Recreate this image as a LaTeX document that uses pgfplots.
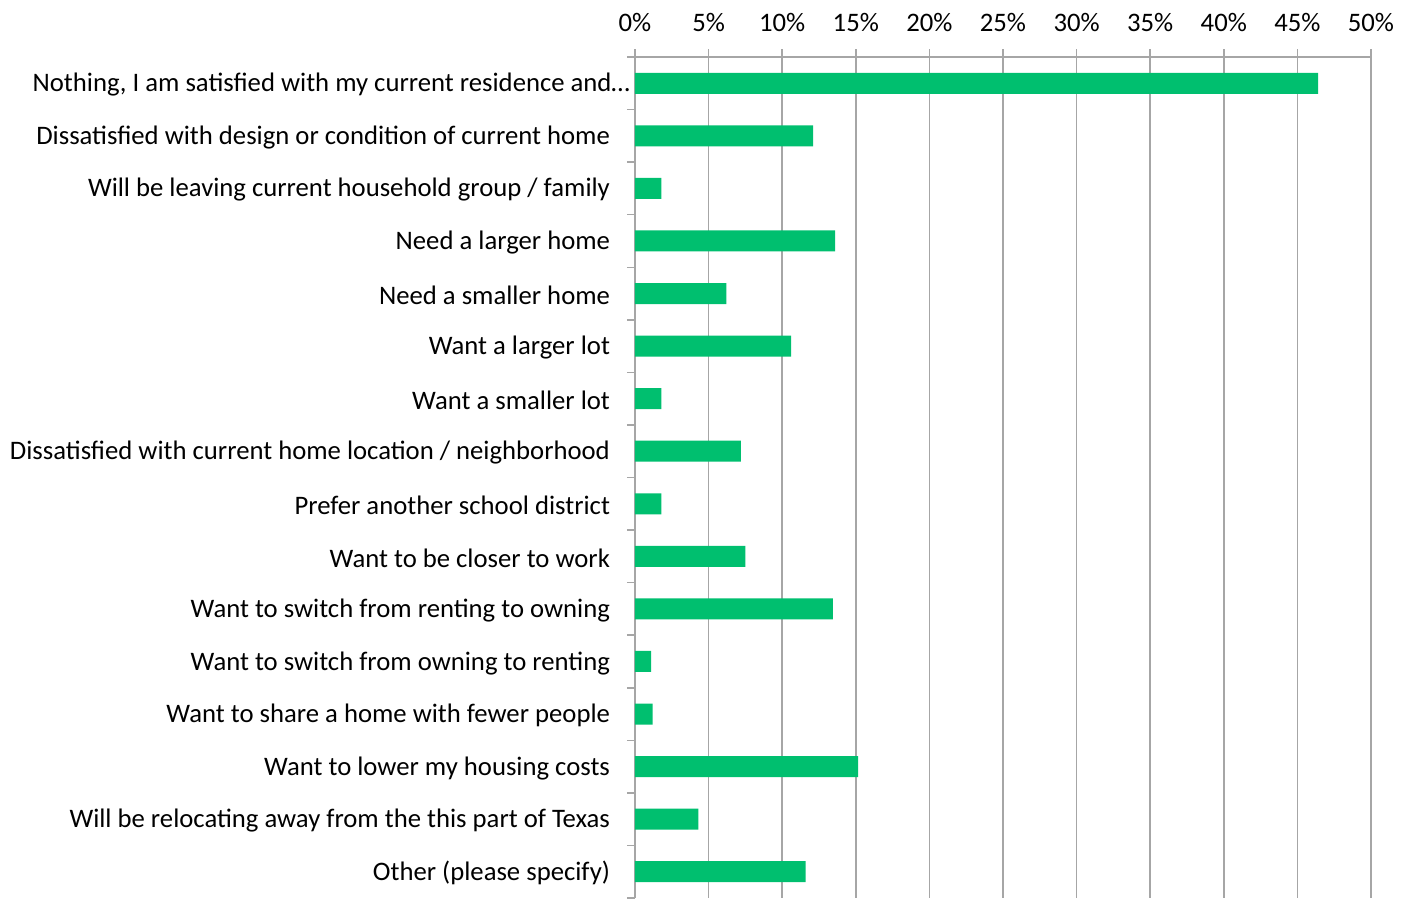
\documentclass[border=0pt]{standalone}
\usepackage{pgfplots}
\pgfplotsset{compat=1.18}
\usepackage{fontspec}
\setmainfont{Carlito}
\definecolor{barg}{RGB}{0,191,111}
\definecolor{gridg}{RGB}{166,166,166}
\begin{document}
\begin{tikzpicture}
\begin{axis}[name=ax,
  scale only axis, width=368bp, height=420.5bp,
  xbar, bar width=10.5bp,
  xmin=0, xmax=50, ymin=-0.5, ymax=15.5, y dir=reverse,
  axis x line*=top, axis y line*=left,
  axis line style={gridg, line width=0.75bp},
  xtick={0,5,...,50},
  xticklabels={0\%,5\%,10\%,15\%,20\%,25\%,30\%,35\%,40\%,45\%,50\%},
  xmajorgrids, grid style={gridg, line width=0.75bp},
  tick align=outside, major tick length=4bp,
  xtick style={gridg, line width=0.75bp},
  ytick={0,...,15},
  ytick style={draw=none},
  extra y ticks={-0.5,0.5,...,15.5},
  extra y tick labels={},
  extra y tick style={ytick style={draw=gridg, line width=0.75bp}, major tick length=4bp},
  yticklabels={{Nothing, I am satisfied with my current residence and…\kern-10bp},
    {Dissatisfied with design or condition of current home},
    {Will be leaving current household group / family},
    {Need a larger home},
    {Need a smaller home},
    {Want a larger lot},
    {Want a smaller lot},
    {Dissatisfied with current home location / neighborhood},
    {Prefer another school district},
    {Want to be closer to work},
    {Want to switch from renting to owning},
    {Want to switch from owning to renting},
    {Want to share a home with fewer people},
    {Want to lower my housing costs},
    {Will be relocating away from the this part of Texas},
    {Other (please specify)}},
  tick label style={font=\fontsize{13.35bp}{15bp}\selectfont, text=black},
  yticklabel style={xshift=-5bp, yshift=-0.8bp},
  xticklabel style={yshift=5bp},
]
\addplot[fill=barg, draw=none] coordinates {
  (46.4,0) (12.1,1) (1.8,2) (13.6,3) (6.2,4) (10.6,5) (1.8,6) (7.2,7)
  (1.8,8) (7.5,9) (13.45,10) (1.1,11) (1.2,12) (15.15,13) (4.3,14) (11.6,15)
};
\end{axis}
\path ([xshift=-317.5bp]ax.south west) rectangle ([xshift=19.5bp,yshift=28.5bp]ax.north east);
\end{tikzpicture}
\end{document}
